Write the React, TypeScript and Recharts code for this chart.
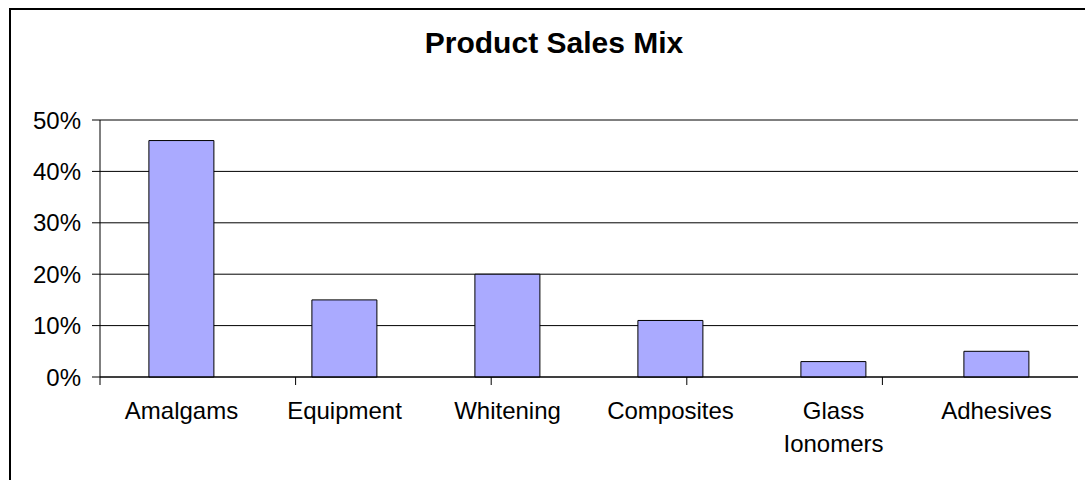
import { BarChart, Bar, XAxis, YAxis, CartesianGrid } from "recharts";

const categories = ["Amalgams", "Equipment", "Whitening", "Composites", "Glass Ionomers", "Adhesives"];
const shares = [0.46, 0.15, 0.2, 0.11, 0.03, 0.05];
const yTicks = [0, 0.1, 0.2, 0.3, 0.4, 0.5];
const edgeTicks = [0, 1, 2, 3, 4, 5, 6];

const FONT = "'Liberation Sans', Arial, sans-serif";

const rows = categories.map((name, i) => ({ name, share: shares[i] }));

// labels wider than a category wrap onto one word per line, like Excel does
function CategoryTick(props: any) {
  const { x, y, payload } = props;
  const label: string = payload.value;
  const lines = label.length > 12 ? label.split(" ") : [label];
  return (
    <text x={x} y={y} textAnchor="middle" fill="#000" fontSize={24} fontFamily={FONT}>
      {lines.map((line, i) => (
        <tspan key={i} x={x} dy={i === 0 ? "0.71em" : 33}>
          {line}
        </tspan>
      ))}
    </text>
  );
}

const noTick = () => <g />;

export default function App() {
  return (
    <div style={{ position: "relative", width: 1085, height: 480, overflow: "hidden", background: "#fff" }}>
      <style>{`body{margin:0}`}</style>
      <div
        style={{
          position: "absolute",
          left: 9,
          top: 8,
          width: 1100,
          height: 500,
          borderLeft: "2px solid #000",
          borderTop: "2px solid #000",
        }}
      />
      <svg width={1085} height={80} style={{ position: "absolute", left: 0, top: 0 }}>
        <text x={554} y={53} textAnchor="middle" fontFamily={FONT} fontWeight="bold" fontSize={30} fill="#000">
          Product Sales Mix
        </text>
      </svg>
      <div style={{ position: "absolute", left: 0, top: 0 }}>
        <BarChart
          width={1085}
          height={480}
          data={rows}
          margin={{ top: 120, right: 7, bottom: 13, left: 0 }}
          barCategoryGap="30%"
        >
          <CartesianGrid vertical={false} stroke="#000" xAxisId={0} />
          <XAxis
            xAxisId={0}
            type="number"
            domain={[0, 6]}
            ticks={edgeTicks}
            tick={noTick}
            tickSize={8}
            height={10}
            stroke="#000"
          />
          <XAxis
            xAxisId={1}
            dataKey="name"
            axisLine={false}
            tickLine={false}
            tickMargin={9}
            height={80}
            interval={0}
            tick={<CategoryTick />}
          />
          <YAxis
            domain={[0, 0.5]}
            ticks={yTicks}
            tickFormatter={(v: number) => `${Math.round(v * 100)}%`}
            width={100}
            tickSize={8}
            tickMargin={11}
            stroke="#000"
            tick={{ fill: "#000", fontSize: 24, fontFamily: FONT }}
          />
          <YAxis yAxisId="frame" orientation="right" width={0} tick={false} tickLine={false} stroke="#999" />
          <Bar dataKey="share" xAxisId={1} fill="#AAAAFF" stroke="#000" strokeWidth={1} isAnimationActive={false} />
        </BarChart>
      </div>
    </div>
  );
}
